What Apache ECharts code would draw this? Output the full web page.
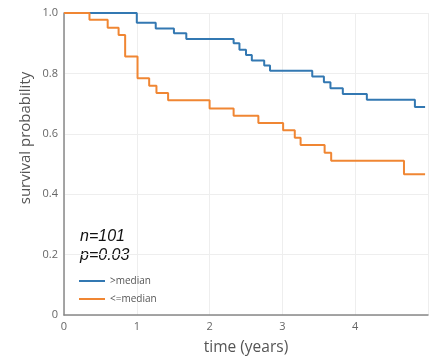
<!DOCTYPE html>
<html>
<head>
<meta charset="utf-8">
<script src="https://cdn.jsdelivr.net/npm/echarts@6/dist/echarts.min.js"></script>
<style>html,body{margin:0;padding:0;background:#fff}#c{width:431px;height:361px}</style>
</head>
<body>
<div id="c"></div>
<script>
const seriesNames = ['>median', '<=median'];
const highTimes = [0, 1.0, 1.26, 1.51, 1.68, 2.33, 2.41, 2.50, 2.58, 2.75, 2.83, 3.41, 3.57, 3.66, 3.83, 4.16, 4.82, 4.96];
const highSurv  = [1, 0.968, 0.949, 0.933, 0.914, 0.900, 0.878, 0.861, 0.843, 0.826, 0.809, 0.790, 0.771, 0.751, 0.732, 0.713, 0.689, 0.689];
const lowTimes  = [0, 0.35, 0.60, 0.75, 0.84, 1.01, 1.17, 1.27, 1.43, 2.0, 2.33, 2.67, 3.01, 3.17, 3.25, 3.58, 3.67, 4.67, 4.96];
const lowSurv   = [1, 0.978, 0.951, 0.927, 0.856, 0.784, 0.759, 0.735, 0.711, 0.684, 0.660, 0.636, 0.612, 0.587, 0.563, 0.537, 0.511, 0.466, 0.466];
const xTicks = [0, 1, 2, 3, 4];
const annotation = ['n=101', 'p=0.03'];
const xTitle = 'time (years)';
const yTitle = 'survival probability';

const zip = (a, b) => a.map((v, i) => [v, b[i]]);
const chart = echarts.init(document.getElementById('c'), null, {renderer: 'canvas'});
chart.setOption({
  animation: false,
  grid: {left: 64, top: 13, height: 303, width: 371.5},
  xAxis: {
    type: 'value', min: 0, max: 5, interval: 1,
    name: xTitle, nameLocation: 'middle', nameGap: 25,
    nameTextStyle: {fontSize: 15.5, color: '#555', fontFamily: 'Open Sans'},
    axisLine: {show: true, lineStyle: {color: '#888', width: 1.5}},
    axisTick: {show: false},
    axisLabel: {color: '#666', fontSize: 11, margin: 6, fontFamily: 'Open Sans',
      formatter: v => xTicks.includes(v) ? String(v) : ''},
    splitLine: {show: true, lineStyle: {color: '#eee', width: 1}}
  },
  yAxis: {
    type: 'value', min: 0, max: 1, interval: 0.2,
    axisLine: {show: true, lineStyle: {color: '#888', width: 1.5}},
    axisTick: {show: false},
    axisLabel: {color: '#666', fontSize: 11, margin: 6, fontFamily: 'Open Sans',
      formatter: v => v === 0 ? '0' : v.toFixed(1)},
    splitLine: {show: true, lineStyle: {color: '#eee', width: 1}}
  },
  legend: {
    orient: 'vertical', left: 74, top: 271, itemWidth: 26, itemHeight: 10, itemGap: 8,
    textStyle: {fontSize: 10, color: '#555', fontFamily: 'Open Sans'},
    data: seriesNames.map(n => ({name: n, icon: 'path://M0,4 L26,4 L26,6 L0,6 Z'}))
  },
  graphic: [
    {type: 'text', x: 26, y: 138, rotation: Math.PI / 2,
     style: {text: yTitle, font: '15px "Open Sans"', fill: '#555', align: 'center', verticalAlign: 'middle'}},
    {type: 'text', left: 80, top: 229, style: {text: annotation[0], font: 'italic 16px "Liberation Sans"', fill: '#111'}},
    {type: 'text', left: 80, top: 248, style: {text: annotation[1], font: 'italic 16px "Liberation Sans"', fill: '#111'}}
  ],
  series: [
    {name: seriesNames[0], type: 'line', step: 'end', showSymbol: false, symbol: 'none',
     data: zip(highTimes, highSurv), lineStyle: {color: '#3378b2', width: 2}, itemStyle: {color: '#3378b2'}},
    {name: seriesNames[1], type: 'line', step: 'end', showSymbol: false, symbol: 'none',
     data: zip(lowTimes, lowSurv), lineStyle: {color: '#f08633', width: 2}, itemStyle: {color: '#f08633'}}
  ]
});
</script>
</body>
</html>
